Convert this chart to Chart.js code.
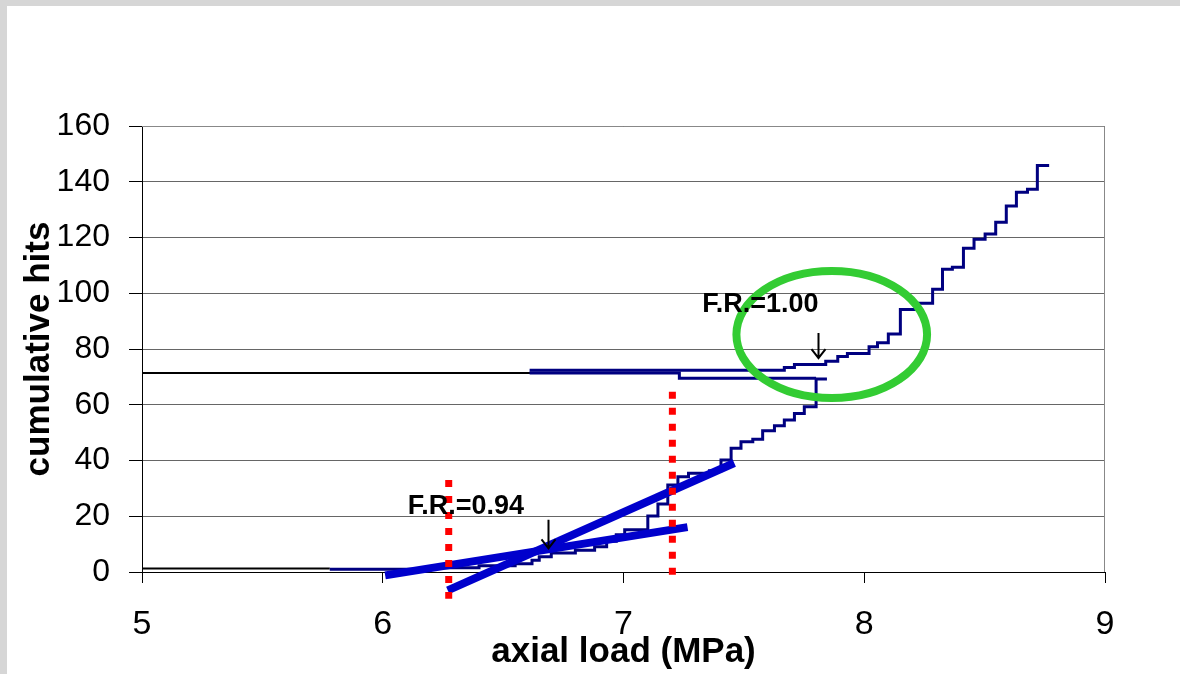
<!DOCTYPE html>
<html>
<head>
<meta charset="utf-8">
<script src="https://cdn.jsdelivr.net/npm/chart.js@4.4.1/dist/chart.umd.min.js"></script>
<style>
    html, body { margin: 0; padding: 0; }
    body { width: 1180px; height: 674px; background: #d6d6d6; position: relative; overflow: hidden; }
    #panel { position: absolute; left: 7px; top: 6px; right: 0; bottom: 0; background: #fff; }
    #chart { position: absolute; left: 0; top: 0; }
</style>
</head>
<body>
<div id="panel"></div>
<canvas id="chart" width="1180" height="674"></canvas>
<script>
// first loading: cumulative hits vs axial load
const cycle1Load = [5.78, 6.20, 6.40, 6.55, 6.62, 6.65, 6.70, 6.80, 6.88, 6.93, 6.97, 7.005, 7.101, 7.143, 7.184, 7.226, 7.27, 7.357, 7.405, 7.447, 7.488, 7.537, 7.578, 7.627, 7.668, 7.71, 7.751, 7.80, 7.845];
const cycle1Hits = [1.0, 1.5, 2.2, 3.0, 4.2, 5.5, 6.8, 7.8, 9.1, 11.0, 13.4, 15.2, 20.1, 24.4, 31.2, 34.2, 35.4, 36.3, 40.2, 44.4, 46.7, 47.6, 50.7, 52.5, 54.5, 56.9, 59.3, 69.2, 69.2];

// unloading
const unloadLoad = [7.80, 7.232, 7.232, 6.61];
const unloadHits = [69.5, 69.5, 71.4, 71.4];

// reloading
const cycle2Load = [6.61, 7.668, 7.71, 7.84, 7.89, 7.93, 8.02, 8.055, 8.10, 8.15, 8.22, 8.284, 8.325, 8.366, 8.412, 8.456, 8.502, 8.546, 8.59, 8.632, 8.678, 8.719, 8.768];
const cycle2Hits = [72.4, 73.4, 74.4, 75.6, 77.3, 78.4, 80.8, 82.2, 85.4, 94.2, 96.4, 101.4, 108.6, 109.3, 116.1, 119.4, 121.3, 125.5, 131.3, 136.2, 137.3, 145.8, 145.8];

// black reference lines
const baseLoad = [5.0, 5.78];
const baseHits = [1.3, 1.3];
const plateauLoad = [5.0, 6.67];
const plateauHits = [71.4, 71.4];

// fitted lines
const fitShallowLoad = [6.01, 7.266];
const fitShallowHits = [-1.2, 16.1];
const fitSteepLoad = [6.27, 7.46];
const fitSteepHits = [-6.6, 39.1];

// red markers (onset loads)
const onsetLowLoad = [6.274, 6.274];
const onsetLowHits = [33, -9.6];
const onsetHighLoad = [7.203, 7.203];
const onsetHighHits = [64.7, -1.2];

const xTicks = [5, 6, 7, 8, 9];

const NAVY = '#000080';
const BLUE = '#0000cc';
const RED = '#ff0000';
const GREEN = '#33cc33';

const toPoints = (xs, ys) => xs.map((v, i) => ({ x: v, y: ys[i] }));

Chart.defaults.font.family = '"Liberation Sans", Arial, sans-serif';

function stepLine(xs, ys, color, order) {
    return {
        data: toPoints(xs, ys),
        showLine: true,
        stepped: true,
        borderColor: color,
        borderWidth: 3,
        pointRadius: 0,
        fill: false,
        order: order
    };
}

function straight(xs, ys, color, width, dash, order) {
    return {
        data: toPoints(xs, ys),
        showLine: true,
        borderColor: color,
        borderWidth: width,
        borderDash: dash,
        borderCapStyle: 'butt',
        pointRadius: 0,
        fill: false,
        clip: false,
        order: order
    };
}

// ellipse, arrows and F.R. labels, in data units
const notes = {
    ellipse: { x: 7.865, y: 85.2, rx: 0.396, ry: 22.8 },
    arrows: [
        { x: 6.685, from: 18.7, to: 8.5 },
        { x: 7.806, from: 85.7, to: 76.7 }
    ],
    labels: [
        { text: 'F.R.=0.94', x: 6.104, y: 20.8 },
        { text: 'F.R.=1.00', x: 7.327, y: 93.2 }
    ]
};

const annotate = {
    id: 'annotate',
    beforeDatasetsDraw(chart) {
        const { ctx, chartArea } = chart;
        ctx.save();
        ctx.strokeStyle = '#888';
        ctx.lineWidth = 1;
        ctx.beginPath();
        ctx.moveTo(chartArea.left, chartArea.top + 0.5);
        ctx.lineTo(chartArea.right - 0.5, chartArea.top + 0.5);
        ctx.lineTo(chartArea.right - 0.5, chartArea.bottom);
        ctx.stroke();
        ctx.restore();
    },
    afterDatasetsDraw(chart) {
        const { ctx, scales: { x, y } } = chart;
        ctx.save();

        const e = notes.ellipse;
        const cx = x.getPixelForValue(e.x);
        const cy = y.getPixelForValue(e.y);
        const rx = x.getPixelForValue(e.x + e.rx) - cx;
        const ry = cy - y.getPixelForValue(e.y + e.ry);
        ctx.strokeStyle = GREEN;
        ctx.lineWidth = 8;
        ctx.beginPath();
        ctx.ellipse(cx, cy, rx, ry, 0, 0, Math.PI * 2);
        ctx.stroke();

        ctx.strokeStyle = '#000';
        ctx.lineWidth = 2;
        notes.arrows.forEach(a => {
            const ax = Math.round(x.getPixelForValue(a.x)) + 0.5;
            const y0 = y.getPixelForValue(a.from);
            const y1 = y.getPixelForValue(a.to);
            ctx.beginPath();
            ctx.moveTo(ax, y0);
            ctx.lineTo(ax, y1);
            ctx.moveTo(ax - 7, y1 - 9);
            ctx.lineTo(ax, y1);
            ctx.lineTo(ax + 7, y1 - 9);
            ctx.stroke();
        });

        ctx.fillStyle = '#000';
        ctx.font = 'bold 27px "Liberation Sans", Arial, sans-serif';
        ctx.textAlign = 'left';
        ctx.textBaseline = 'alphabetic';
        notes.labels.forEach(l => {
            ctx.fillText(l.text, x.getPixelForValue(l.x), y.getPixelForValue(l.y));
        });
        ctx.restore();
    }
};

new Chart(document.getElementById('chart'), {
    type: 'scatter',
    data: {
        datasets: [
            straight(onsetLowLoad, onsetLowHits, RED, 7, [7, 9], 0),
            straight(onsetHighLoad, onsetHighHits, RED, 7, [7, 9], 0),
            straight(fitShallowLoad, fitShallowHits, BLUE, 8, [], 1),
            straight(fitSteepLoad, fitSteepHits, BLUE, 8, [], 1),
            stepLine(cycle1Load, cycle1Hits, NAVY, 2),
            stepLine(unloadLoad, unloadHits, NAVY, 2),
            stepLine(cycle2Load, cycle2Hits, NAVY, 2),
            straight(baseLoad, baseHits, '#000', 2, [], 3),
            straight(plateauLoad, plateauHits, '#000', 2, [], 3)
        ]
    },
    options: {
        responsive: false,
        animation: false,
        layout: { padding: { top: 126, right: 75, bottom: 0, left: 0 } },
        plugins: { legend: { display: false }, tooltip: { enabled: false } },
        scales: {
            x: {
                type: 'linear',
                min: 5,
                max: 9,
                afterBuildTicks: s => { s.ticks = xTicks.map(v => ({ value: v })); },
                ticks: { color: '#000', font: { size: 34 }, padding: 21 },
                grid: { drawOnChartArea: false, tickLength: 11, tickColor: '#000' },
                border: { color: '#000', width: 1 },
                title: {
                    display: true,
                    text: 'axial load (MPa)',
                    color: '#000',
                    font: { size: 35, weight: 'bold' },
                    padding: { top: 0, bottom: 1 }
                },
                afterFit: s => { s.height = 102; }
            },
            y: {
                min: 0,
                max: 160,
                ticks: { stepSize: 20, color: '#000', font: { size: 32 }, padding: 19 },
                grid: { color: '#666', tickLength: 13, tickColor: '#000' },
                border: { color: '#000', width: 1 },
                title: {
                    display: true,
                    text: 'cumulative hits',
                    color: '#000',
                    font: { size: 35, weight: 'bold' },
                    padding: { top: 18, bottom: 0 }
                },
                afterFit: s => { s.width = 142; }
            }
        }
    },
    plugins: [annotate]
});
</script>
</body>
</html>
